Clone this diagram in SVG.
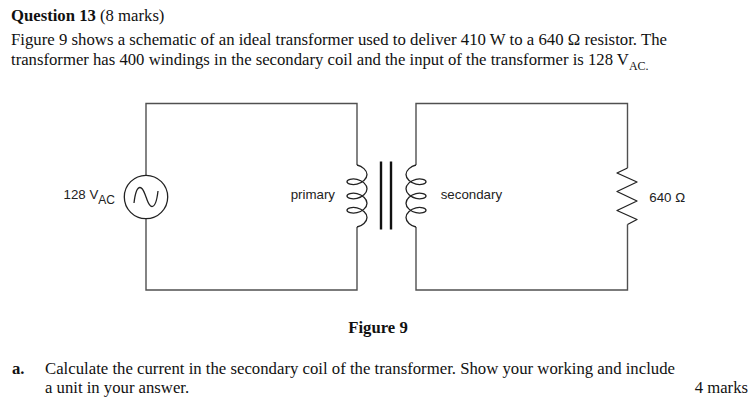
<svg xmlns="http://www.w3.org/2000/svg" width="756" height="410" viewBox="0 0 756 410">
<style>
.q{font-family:"Liberation Serif","Times New Roman",serif;font-size:16.7px;fill:#111}
.b{font-weight:bold}
.lbl{font-family:"Liberation Sans",Arial,sans-serif;font-size:13.3px;fill:#222}
.wire{fill:none;stroke:#505050;stroke-width:1.4;stroke-linejoin:miter}
.sym{fill:none;stroke:#222;stroke-width:1.3;stroke-linejoin:round}
.bar{stroke:#111;stroke-width:2.4}
</style>
<defs>
<path id="coil" d="M357,165 C362.236,166.191 367,170.24 367,174.572 C367,178.904 362.236,182.953 357,184.144 C351.764,185.335 347,183.667 347,181.716 C347,179.765 351.764,178.097 357,179.288 C362.236,180.479 367,184.528 367,188.86 C367,193.192 362.236,197.241 357,198.432 C351.764,199.623 347,197.955 347,196.004 C347,194.053 351.764,192.385 357,193.576 C362.236,194.767 367,198.816 367,203.148 C367,207.48 362.236,211.529 357,212.72 C351.764,213.911 347,212.243 347,210.292 C347,208.341 351.764,206.673 357,207.864 C362.236,209.055 367,213.104 367,217.436 C367,221.768 362.236,225.817 357,227.008"/>
</defs>
<rect width="756" height="410" fill="#fff"/>

<g id="question-text">
<text class="q" x="11" y="21"><tspan class="b">Question 13</tspan> (8 marks)</text>
<text class="q" x="11" y="44.5" textLength="656" lengthAdjust="spacingAndGlyphs">Figure 9 shows a schematic of an ideal transformer used to deliver 410 W to a 640 Ω resistor. The</text>
<text class="q" x="11" y="64.5">transformer has 400 windings in the secondary coil and the input of the transformer is 128 V<tspan font-size="12" y="70">AC.</tspan></text>
</g>

<g id="connectors">
<path class="wire" d="M146,175 V103.5 H357 V165"/>
<path class="wire" d="M357,227 V290 H146 V219"/>
<path class="wire" d="M416,165 V103.5 H627.5 V168"/>
<path class="wire" d="M627.5,224.5 V290 H416 V227"/>
</g>

<g id="source">
<circle class="sym" cx="146" cy="197" r="21.7"/>
<path class="sym" d="M134,203 C135.5,190 138,187.5 140,187.5 C143,187.5 144,192 146,197 C148,202 149,206.5 152,206.5 C154,206.5 156.5,204 158,191"/>
<text class="lbl" x="63.5" y="198.5">128 V<tspan font-size="12" y="203.5">AC</tspan></text>
</g>

<g id="primary">
<use href="#coil" class="sym"/>
<text class="lbl" x="290.7" y="199.3">primary</text>
</g>

<g id="core">
<line class="bar" x1="381" y1="161.5" x2="381" y2="229.5"/>
<line class="bar" x1="391" y1="161.5" x2="391" y2="229.5"/>
</g>

<g id="secondary">
<use href="#coil" class="sym" transform="translate(773,0) scale(-1,1)"/>
<text class="lbl" x="440.7" y="199.3">secondary</text>
</g>

<g id="resistor">
<polyline class="sym" points="627.5,168 617,173 637,182 617,191.5 637,201 617,210.5 637,219.5 627.5,224.5"/>
<text class="lbl" x="649.3" y="201.5">640 Ω</text>
</g>

<g id="figure-caption">
<text class="q b" x="378" y="332.5" text-anchor="middle">Figure 9</text>
</g>

<g id="part-a">
<text class="q b" x="12" y="374">a.</text>
<text class="q" x="45" y="374" textLength="630" lengthAdjust="spacingAndGlyphs">Calculate the current in the secondary coil of the transformer. Show your working and include</text>
<text class="q" x="45" y="393.3">a unit in your answer.</text>
<text class="q" x="748" y="393.3" text-anchor="end">4 marks</text>
</g>
</svg>
